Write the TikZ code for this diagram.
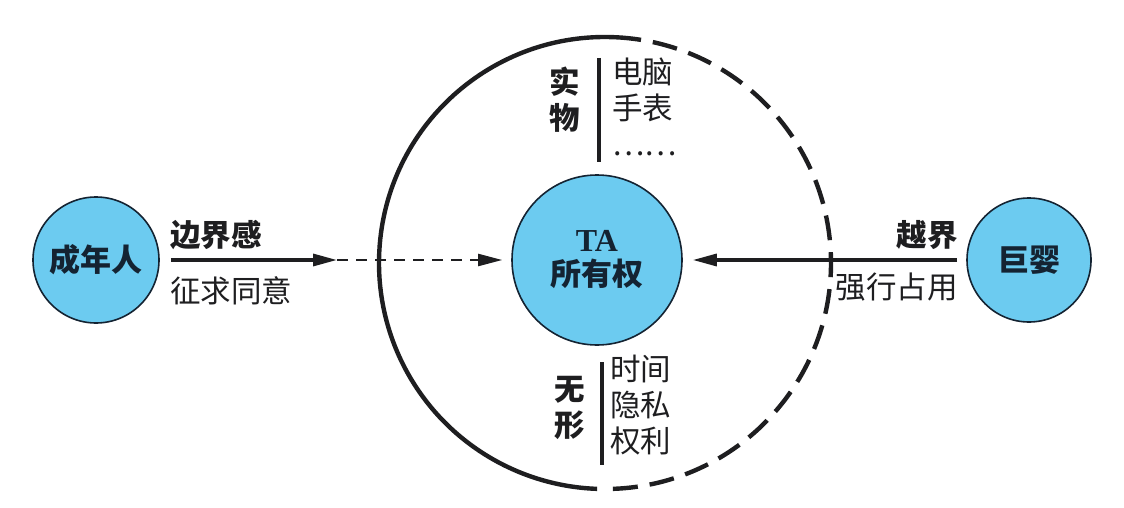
\documentclass[tikz,border=0pt]{standalone}
\usepackage{fontspec}
\setmainfont{Liberation Serif}
\newfontfamily\cjk{Noto Sans CJK SC}
\usetikzlibrary{arrows.meta}
\definecolor{cfill}{RGB}{108,203,240}
\definecolor{cline}{RGB}{20,35,50}
\definecolor{ctext}{RGB}{30,30,32}
\tikzset{
  circ/.style={circle,draw=cline,line width=1.6pt,fill=cfill,inner sep=0pt,text=cline,font=\cjk\bfseries\fontsize{31}{36}\selectfont},
  lbl/.style={inner sep=0pt,text=ctext,font=\cjk\fontsize{30.5}{36}\selectfont},
  blbl/.style={lbl,font=\cjk\bfseries\fontsize{30.5}{36}\selectfont},
  arr/.style={line width=3.2pt,draw=ctext,-{Triangle[length=24pt,width=12pt]}},
  divider/.style={line width=3.2pt,draw=ctext},
  bigc/.style={line width=4.4pt,draw=ctext}
}
\begin{document}
\begin{tikzpicture}[x=1pt,y=1pt]
\useasboundingbox (0,0) rectangle (1124,-508);
% big circle
\coordinate (bc) at (605,-263);
\draw[bigc] ([shift={(87:226)}]bc) arc[start angle=87,end angle=268,radius=226];
\draw[bigc,dash pattern=on 25pt off 12pt] ([shift={(-88:226)}]bc) arc[start angle=-88,end angle=87,radius=226];
% circles
\node[circ,minimum size=126pt] (adult) at (96,-260) {成年人};
\node[circ,minimum size=170pt,align=center] (ta) at (597,-260) {{\rmfamily\bfseries\fontsize{32}{36}\selectfont TA}\\[-2pt]所有权};
\node[circ,minimum size=124pt] (ju) at (1029,-260) {巨婴};
% left arrow
\coordinate (mid) at (337,-260);
\draw[arr,shorten <=11pt] (adult.east) -- (mid);
\draw[line width=2.2pt,draw=ctext,dash pattern=on 11pt off 8pt,-{Triangle[length=24pt,width=12pt]},shorten >=9pt] (mid) -- (ta.west);
% right arrow
\draw[arr,shorten <=9pt,shorten >=10pt] (ju.west) -- (ta.east);
% labels
\node[blbl,anchor=west] (l1) at (170,-235) {边界感};
\node[lbl,anchor=west] (l2) at (170,-291) {征求同意};
\node[blbl,anchor=east] (r1) at (958,-235) {越界};
\node[lbl,anchor=east] (r2) at (958,-287) {强行占用};
% top group
\node[blbl,align=center] (shiwu) at (565,-100) {实\\物};
\draw[divider] (599,-58) -- (599,-162);
\node[lbl,align=left,anchor=north west] (toplist) at (612,-58) {电脑\\手表\\……};
% bottom group
\node[blbl,align=center] (wuxing) at (570,-408) {无\\形};
\draw[divider] (602,-362) -- (602,-465);
\node[lbl,align=left,anchor=north west] (botlist) at (610,-355) {时间\\隐私\\权利};
\end{tikzpicture}
\end{document}
